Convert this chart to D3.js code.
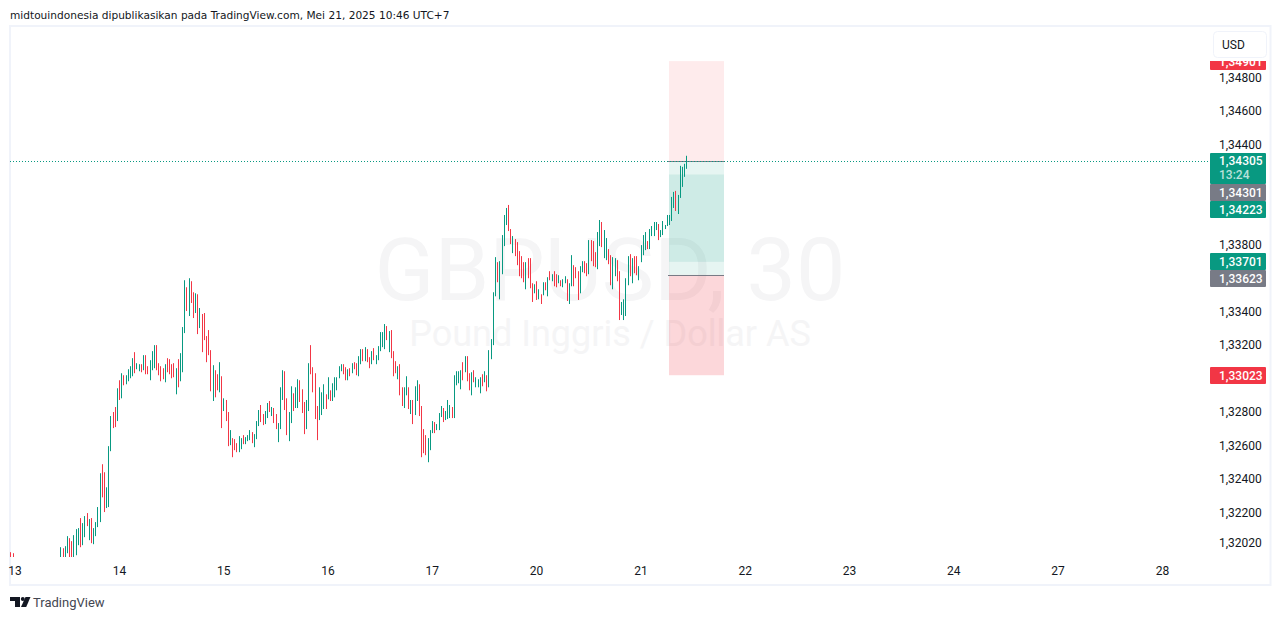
<!DOCTYPE html>
<html><head><meta charset="utf-8">
<script src="https://cdn.jsdelivr.net/npm/d3@7"></script>
<style>html,body{margin:0;padding:0;background:#fff;overflow:hidden}svg{display:block}</style>
</head><body><div id="c"></div>
<script>
// Prices in units of 0.00001 (134305 = 1,34305). Bars 2-22 lie below the visible range.
const barHigh=[131965,131959,
null,null,null,null,null,null,null,
null,null,null,null,null,null,null,
null,null,null,null,null,null,null,
131995,131989,132001,132061,132049,132031,132067,132103,132109,132169,
132139,132181,132199,132163,132169,132109,132145,132235,132437,132491,
132443,132353,132599,132779,132803,132833,132945,132993,133035,133023,
133023,133059,133077,133125,133161,133095,133089,133089,133143,133143,
133077,133113,133167,133203,133203,133095,133077,133065,133089,133125,
133119,133089,133095,133065,133119,133155,133311,133591,133549,133603,
133585,133519,133513,133507,133425,133389,133395,133257,133293,133173,
133083,133053,133029,133101,133017,132885,132875,132803,132695,132647,
132641,132617,132659,132647,132665,132653,132665,132695,132683,132671,
132749,132815,132845,132791,132809,132857,132869,132833,132827,132791,
132737,132951,133053,133047,132885,132803,132957,132915,132951,132999,
132993,132939,132863,132875,133095,133203,133071,133035,132839,132951,
132921,132969,132909,133011,132933,132975,133011,133011,133077,133089,
133089,133071,133059,133065,133095,133101,133095,133137,133179,133179,
133191,133179,133131,133167,133185,133143,133197,133281,133281,133329,
133317,133287,133293,133167,133107,133077,133089,132951,132951,133017,
132951,132875,132875,132957,132993,132969,132839,132701,132665,132647,
132695,132749,132743,132731,132797,132839,132827,132809,132875,132845,
132833,133023,133047,133047,133053,133101,133137,133137,133035,133041,
133053,133011,132999,133011,133029,133047,133023,133173,133239,133519,
133729,133699,133705,133861,133981,134023,134041,133897,133855,133837,
133819,133765,133735,133699,133699,133723,133723,133573,133567,133585,
133537,133507,133579,133579,133609,133645,133627,133645,133627,133621,
133591,133597,133615,133597,133573,133741,133681,133669,133645,133675,
133705,133705,133693,133831,133831,133825,133759,133879,133951,133939,
133891,133843,133777,133741,133729,133723,133711,133645,133461,133477,
133603,133735,133747,133723,133735,133735,133675,133801,133861,133879,
133825,133897,133915,133939,133939,133927,133891,133945,133921,133981,
133981,134089,134119,134125,134101,134275,134269,134287,134335];
const barLow=[131905,131905,
null,null,null,null,null,null,null,
null,null,null,null,null,null,null,
null,null,null,null,null,null,null,
131917,131917,131917,131959,131917,131917,131917,131947,132007,131995,
132007,132055,132121,132037,132019,132013,132061,132115,132145,132293,
132205,132229,132235,132569,132707,132713,132749,132875,132885,132963,
132969,132987,133005,133017,133035,133059,133047,133041,133053,133029,
133029,132993,133053,133065,133053,133023,132987,132999,132981,133041,
133029,133005,133011,132909,132951,132987,133041,133275,133407,133377,
133455,133365,133395,133269,133305,133161,133233,133101,133143,132927,
132869,132891,132933,132921,132707,132809,132749,132599,132605,132533,
132575,132563,132563,132581,132611,132611,132629,132635,132617,132593,
132641,132719,132743,132725,132731,132767,132803,132779,132737,132701,
132623,132701,132875,132815,132665,132629,132737,132809,132827,132827,
132863,132797,132671,132701,132809,133029,132921,132761,132635,132755,
132785,132821,132821,132879,132869,132869,132891,132933,133005,133047,
133029,132993,132993,133017,133035,133059,133023,133017,133089,133107,
133107,133101,133065,133089,133113,133089,133113,133167,133191,133179,
133233,133161,133125,133017,133035,132999,132903,132839,132827,132903,
132821,132791,132731,132785,132869,132779,132533,132557,132545,132503,
132575,132677,132677,132695,132695,132773,132743,132755,132761,132767,
132767,132767,132963,132975,132939,132993,133041,132987,132933,132903,
132981,132951,132951,132915,132957,132981,132927,132951,133119,133203,
133495,133579,133477,133627,133795,133921,133885,133807,133753,133735,
133681,133615,133603,133579,133537,133603,133543,133461,133513,133473,
133477,133449,133501,133531,133495,133591,133585,133555,133549,133573,
133555,133549,133573,133467,133449,133555,133555,133603,133473,133513,
133639,133633,133615,133627,133705,133675,133669,133657,133795,133789,
133723,133711,133687,133561,133537,133615,133585,133353,133383,133353,
133377,133561,133615,133573,133633,133621,133591,133699,133741,133771,
133777,133777,133855,133855,133891,133831,133849,133861,133897,133915,
133921,133945,134023,134005,133987,134083,134149,134209,134257];
const barDir=("rr"+"-------"+"-------"+"-------"+
"grggrrgggr"+"ggrgrggggr"+"rgggrrgrgr"+"ggggrggrgr"+"rgggrrrrgr"+
"rrrgrgggrg"+"rrgrgrrrrr"+"grrgrgrrgr"+"rrggrgggrg"+"ggrrggrgrr"+
"gggrrggrgg"+"rrrggrrrrg"+"ggrgrggggg"+"rrgrgrrggr"+"grrgrggggg"+
"rgrrrgrrgg"+"rgrggrrrrg"+"ggrgggrggg"+"rggggrgrrg"+"rgggrgrggg"+
"grggggrrgr"+"rrrrgrrrgr"+"grgrgrgrrg"+"rggrggrrrg"+"grrgrrrggr"+
"ggrrggrrgg"+"ggrgrrgggg"+"rggggrgggg"+"gggrggggg").split("");

const priceTicks=[134800,134600,134400,133800,133400,133200,132800,132600,132400,132200,132020];
const dayLabels=["13","14","15","16","17","20","21","22","23","24","27","28"];
const barsPerDay=48, firstDayBar=2;

const lastPrice=134305, countdown="13:24";
const tradeEntryLong=134301, tradeEntryShort=133623;
const tradeInnerTop=134223, tradeInnerBottom=133701;
const targetPrice=134901, stopPrice=133023;
const tradeStartBar=303, tradeEndBar=328;

const symbolText="GBPUSD, 30", nameText="Pound Inggris / Dollar AS";
const headerText="midtouindonesia dipublikasikan pada TradingView.com, Mei 21, 2025 10:46 UTC+7";
const currency="USD";

const W=1281,H=620;
const UP="#089981",DOWN="#f23645",GREY="#787b86",INK="#131722";
const FONT="Roboto, 'Liberation Sans', sans-serif";
const fmt=v=>{const s=String(Math.round(v));return s[0]+","+s.slice(1)};

const x=d3.scaleLinear().domain([firstDayBar,firstDayBar+barsPerDay]).range([15.3,119.6]);
const y=d3.scaleLinear().domain([134800,132020]).range([78,543]);

const svg=d3.select("#c").append("svg").attr("width",W).attr("height",H).attr("viewBox",`0 0 ${W} ${H}`);
const defs=svg.append("defs");
defs.append("clipPath").attr("id","plot").append("rect").attr("x",10).attr("y",27).attr("width",1200).attr("height",530);
defs.append("clipPath").attr("id","axis").append("rect").attr("x",1205).attr("y",y(targetPrice)).attr("width",66).attr("height",540);

svg.append("text").attr("x",10).attr("y",19).attr("font-family","'DejaVu Sans',sans-serif").attr("font-size",10.6)
   .attr("fill",INK).text(headerText);

// panel frame
svg.append("rect").attr("x",10).attr("y",26).attr("width",1260.5).attr("height",559).attr("fill","#fff")
   .attr("stroke","#f0f3fa").attr("stroke-width",2);

// watermark
const wm=svg.append("g").attr("clip-path","url(#plot)").attr("text-anchor","middle").attr("fill","#f5f5f6").attr("font-family",FONT);
wm.append("text").attr("x",610).attr("y",300).attr("font-size",88).text(symbolText);
wm.append("text").attr("x",610).attr("y",346).attr("font-size",36).text(nameText);

const plot=svg.append("g").attr("clip-path","url(#plot)");
const zoneX=Math.round(x(tradeStartBar)), zoneW=Math.round(x(tradeEndBar))-zoneX;
const zones=[
 {a:targetPrice,b:tradeEntryLong,c:DOWN,o:.1},
 {a:tradeEntryLong,b:tradeInnerTop,c:UP,o:.1},
 {a:tradeInnerTop,b:tradeInnerBottom,c:UP,o:.2},
 {a:tradeInnerBottom,b:tradeEntryShort,c:UP,o:.1},
 {a:tradeEntryShort,b:stopPrice,c:DOWN,o:.2}];
plot.selectAll("rect.zone").data(zones).join("rect").attr("class","zone")
  .attr("x",zoneX).attr("width",zoneW)
  .attr("y",d=>y(d.a)).attr("height",d=>y(d.b)-y(d.a))
  .attr("fill",d=>d.c).attr("fill-opacity",d=>d.o);
plot.selectAll("line.entry").data([tradeEntryLong,tradeEntryShort]).join("line").attr("class","entry")
  .attr("x1",zoneX-1).attr("x2",zoneX+zoneW)
  .attr("y1",d=>Math.round(y(d))+.5).attr("y2",d=>Math.round(y(d))+.5)
  .attr("stroke",GREY).attr("stroke-width",1);

// bars
const bars=barHigh.map((h,i)=>({i,h,l:barLow[i],d:barDir[i]})).filter(b=>b.h!==null);
plot.selectAll("rect.bar").data(bars).join("rect").attr("class","bar")
  .attr("x",b=>Math.floor(x(b.i))).attr("width",1)
  .attr("y",b=>y(b.h)).attr("height",b=>y(b.l)-y(b.h))
  .attr("fill",b=>b.d==="g"?UP:DOWN);

// last price line
plot.append("line").attr("x1",10).attr("x2",1210)
  .attr("y1",Math.round(y(lastPrice))+.5).attr("y2",Math.round(y(lastPrice))+.5)
  .attr("stroke",UP).attr("stroke-width",1).attr("stroke-dasharray","1 2");

// day axis
const dayAxis=d3.axisBottom(x).tickValues(dayLabels.map((_,i)=>firstDayBar+i*barsPerDay))
  .tickFormat((_,i)=>dayLabels[i]).tickSize(0).tickPadding(0);
const gx=svg.append("g").attr("transform","translate(-0.7,566.5)").call(dayAxis);
gx.select(".domain").remove();
gx.selectAll("text").attr("font-family",FONT).attr("font-size",12).attr("fill",INK).attr("dy","0.71em").attr("y",0);

// price axis
const priceAxis=d3.axisRight(y).tickValues(priceTicks).tickFormat(fmt).tickSize(0).tickPadding(0);
const gy=svg.append("g").attr("transform","translate(1219,-0.5)").call(priceAxis);
gy.select(".domain").remove();
gy.selectAll("text").attr("font-family",FONT).attr("font-size",12).attr("fill",INK);

// price labels
const lab=svg.append("g").attr("clip-path","url(#axis)").attr("font-family",FONT).attr("font-size",12).attr("font-weight",500);
const labels=[
 {v:targetPrice,c:DOWN},{v:tradeEntryLong,c:GREY,dy:31},{v:tradeInnerTop,c:UP,dy:35},
 {v:tradeInnerBottom,c:UP},{v:tradeEntryShort,c:GREY,dy:4},{v:stopPrice,c:DOWN}];
labels.forEach(l=>{
  const cy=y(l.v)+(l.dy||0);
  const top=Math.round(cy-8.5);
  lab.append("rect").attr("x",1210).attr("y",top).attr("width",56).attr("height",17).attr("fill",l.c).attr("rx",1);
  lab.append("text").attr("x",1219).attr("y",top+8.5).attr("dy","0.35em").attr("fill","#fff").text(fmt(l.v));
});
const ly=Math.round(y(lastPrice))-8;
lab.append("rect").attr("x",1210).attr("y",ly).attr("width",56).attr("height",31).attr("fill",UP).attr("rx",1);
lab.append("text").attr("x",1219).attr("y",ly+8).attr("dy","0.35em").attr("fill","#fff").text(fmt(lastPrice));
lab.append("text").attr("x",1219).attr("y",ly+22).attr("dy","0.35em").attr("fill","#fff").attr("fill-opacity",.72).text(countdown);

// currency button
svg.append("rect").attr("x",1213.5).attr("y",31.5).attr("width",53).attr("height",26).attr("rx",4)
  .attr("fill","#fff").attr("stroke","#f0f3fa").attr("stroke-width",1);
svg.append("text").attr("x",1222).attr("y",44.5).attr("dy","0.35em").attr("font-family",FONT).attr("font-size",12).attr("fill",INK).text(currency);

// brand
const logo=svg.append("g").attr("transform","translate(10,597)").attr("fill","#131722");
logo.append("path").attr("d","M0 0H10V10H5V4H0Z");
logo.append("circle").attr("cx",12.8).attr("cy",2).attr("r",2);
logo.append("path").attr("d","M15.5 0H20.5L16.2 10H11Z");
svg.append("text").attr("x",33).attr("y",607).attr("font-family",FONT).attr("font-size",13).attr("fill","#434651").text("TradingView");
</script>
</body></html>
